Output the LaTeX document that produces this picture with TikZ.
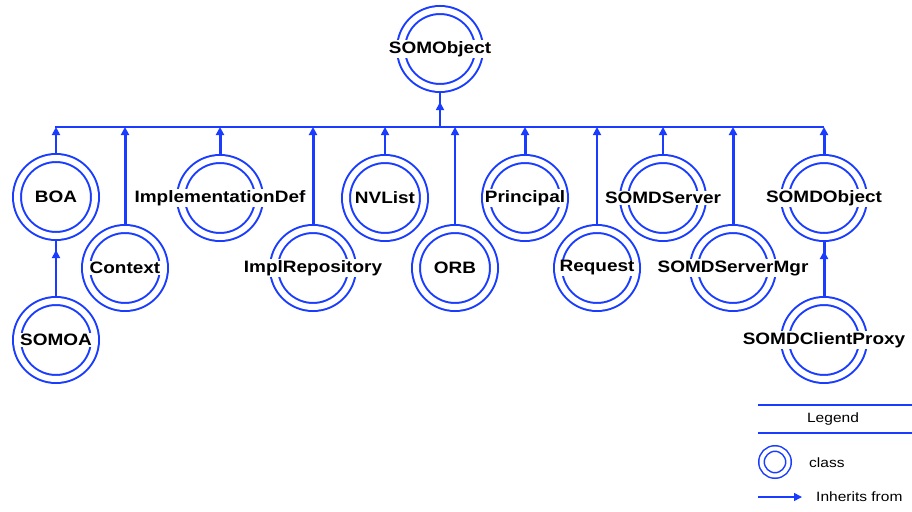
\documentclass[tikz,border=0pt]{standalone}
\usepackage{fontspec}
\setmainfont{Liberation Sans}[FakeStretch=1.15]
\usetikzlibrary{arrows.meta,decorations.markings}
\definecolor{somblue}{RGB}{25,60,255}
\begin{document}
\begin{tikzpicture}[x=1pt,y=-1pt,
  cls/.style={circle, draw=somblue, line width=2pt, double=white, double distance=6pt,
              minimum size=78pt, inner sep=0pt, outer sep=5pt},
  lbl/.style={fill=white, inner sep=1pt, text=black,
              font=\fontsize{16.5}{18}\selectfont\bfseries},
  lgd/.style={inner sep=1pt, text=black, font=\fontsize{13.5}{15}\selectfont},
  thin inh/.style={draw=somblue, line width=1.7pt, -{Triangle[width=8pt,length=8pt]}},
  thick inh/.style={draw=somblue, line width=3pt, -{Triangle[width=8pt,length=8pt]}},
  into/.style={draw=somblue, color=somblue, postaction={decorate},
               decoration={markings, mark=at position -9pt with {\arrow{Triangle[width=8pt,length=8pt]}}}},
  bar/.style={draw=somblue, line width=2pt}
]
\useasboundingbox (0,0) rectangle (912,511);

% classes
\node[cls, label={[lbl]center:SOMObject}] (somobject) at (440,49) {};
\node[cls, label={[lbl]center:BOA}] (boa) at (56,197) {};
\node[cls, label={[lbl]center:SOMOA}] (somoa) at (56,340) {};
\node[cls, label={[lbl]center:Context}] (context) at (125,268) {};
\node[cls, label={[lbl]center:ImplementationDef}] (impldef) at (220,198) {};
\node[cls, label={[lbl]center:ImplRepository}] (implrep) at (313,268) {};
\node[cls, label={[lbl]center:NVList}] (nvlist) at (385,198) {};
\node[cls, label={[lbl]center:ORB}] (orb) at (455,268) {};
\node[cls, label={[lbl]center:Principal}] (principal) at (525,198) {};
\node[cls, label={[lbl]center:Request}] (request) at (597,268) {};
\node[cls, label={[lbl]center:SOMDServer}] (somdserver) at (663,198) {};
\node[cls, label={[lbl]center:SOMDServerMgr}] (somdservermgr) at (733,268) {};
\node[cls, label={[lbl]center:SOMDObject}] (somdobject) at (824,198) {};
\node[cls, label={[lbl]center:SOMDClientProxy}] (proxy) at (824,340) {};

% bar
\coordinate (barL) at (55,127);
\coordinate (barR) at (824,127);
\draw[bar] (barL) -- (barR);

% stem to SOMObject
\draw[into, line width=1.7pt] (somobject |- barL) -- (somobject);

% inheritance connectors to the bar
\draw[thin inh]  (boa) -- (boa |- barL);
\draw[thick inh] (context) -- (context |- barL);
\draw[thick inh] (impldef) -- (impldef |- barL);
\draw[thick inh] (implrep) -- (implrep |- barL);
\draw[thin inh]  (nvlist) -- (nvlist |- barL);
\draw[thin inh]  (orb) -- (orb |- barL);
\draw[thick inh] (principal) -- (principal |- barL);
\draw[thin inh]  (request) -- (request |- barL);
\draw[thin inh]  (somdserver) -- (somdserver |- barL);
\draw[thick inh] (somdservermgr) -- (somdservermgr |- barL);
\draw[thick inh] (somdobject) -- (somdobject |- barL);

% second-level inheritance
\draw[into, line width=1.7pt] (somoa) -- (boa);
\draw[into, line width=3pt] (proxy) -- (somdobject);

% legend
\coordinate (lgTL) at (758,405);
\coordinate (lgTR) at (912,405);
\coordinate (lgBL) at (758,433);
\coordinate (lgBR) at (912,433);
\draw[bar, line width=2.5pt] (lgTL) -- (lgTR);
\draw[bar, line width=2.5pt] (lgBL) -- (lgBR);
\node[lgd] (legend) at (833,419) {Legend};
\node[circle, draw=somblue, line width=1.5pt, double=white, double distance=4pt,
      minimum size=27pt, inner sep=0pt] (lgcls) at (775,462) {};
\node[lgd, anchor=west] (lgclstext) at (808,463) {class};
\coordinate (lgA) at (758,497);
\node[lgd, anchor=west] (lginh) at (815,497) {Inherits from};
\draw[thin inh, line width=1.5pt] (lgA) -- ++(44,0);
\end{tikzpicture}
\end{document}
